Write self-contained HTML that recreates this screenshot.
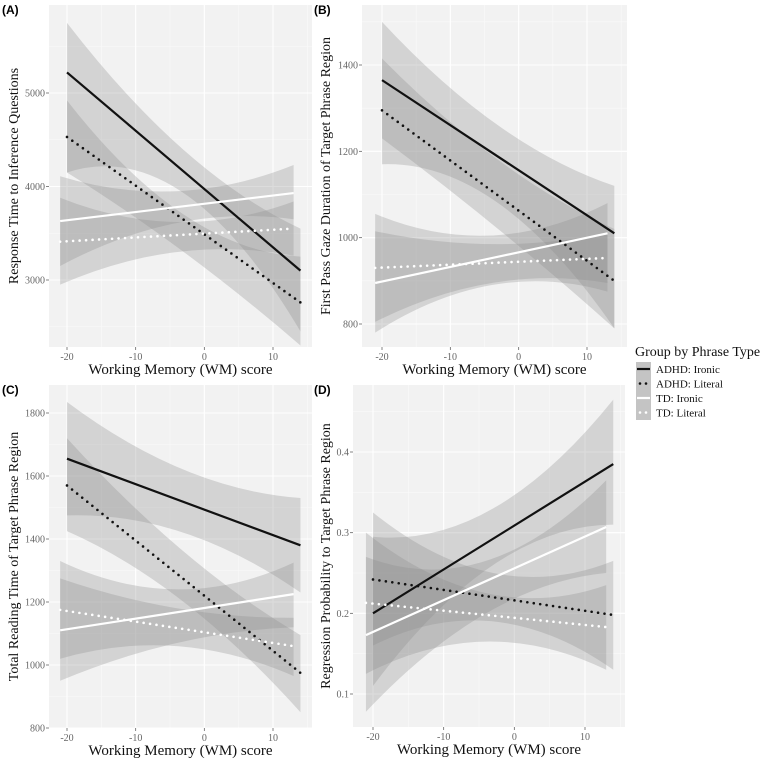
<!DOCTYPE html>
<html><head><meta charset="utf-8"><style>
body{margin:0;background:#fff;}
svg text{font-family:"Liberation Serif",serif;}
</style></head><body>
<svg id="chart" width="764" height="762" xmlns="http://www.w3.org/2000/svg"></svg>
<script>
// shared x extents: ADHD Ironic, ADHD Literal, TD Ironic, TD Literal
const seriesNames = ["ADHD: Ironic","ADHD: Literal","TD: Ironic","TD: Literal"];
const xStart = [-20,-20,-21,-21];
const xEnd = [14,14,13,13];
const xTicks = [-20,-10,0,10];

// Panel A
const aLineStart = [5220,4530,3630,3410];
const aLineEnd = [3100,2760,3930,3550];
const aBandUpper = [[5750,4390,3550],[4920,3700,3250],[4110,3950,4230],[3880,3620,3840]];
const aBandLower = [[4150,3930,2450],[4150,3300,2300],[3150,3610,3650],[2950,3300,3260]];
const aYTicks = [3000,4000,5000];
// Panel B
const bLineStart = [1365,1295,895,930];
const bLineEnd = [1010,900,1010,953];
const bBandUpper = [[1500,1260,1120],[1415,1180,1020],[1055,1005,1080],[1015,985,1010]];
const bBandLower = [[1170,1080,790],[1230,1020,790],[780,890,875],[805,895,895]];
const bYTicks = [800,1000,1200,1400];
// Panel C
const cLineStart = [1655,1570,1110,1175];
const cLineEnd = [1380,975,1225,1060];
const cBandUpper = [[1835,1620,1530],[1720,1360,1095],[1330,1240,1325],[1275,1180,1150]];
const cBandLower = [[1475,1420,1230],[1425,1200,850],[950,1070,1120],[1020,1060,965]];
const cYTicks = [800,1000,1200,1400,1600,1800];
// Panel D
const dLineStart = [0.20,0.242,0.173,0.213];
const dLineEnd = [0.385,0.198,0.307,0.183];
const dBandUpper = [[0.295,0.33,0.465],[0.325,0.25,0.265],[0.27,0.265,0.365],[0.30,0.225,0.235]];
const dBandLower = [[0.11,0.26,0.31],[0.16,0.19,0.13],[0.078,0.2,0.25],[0.125,0.165,0.13]];
const dYTicks = [0.1,0.2,0.3,0.4];

const NS="http://www.w3.org/2000/svg";
const svg=document.getElementById('chart');
function mk(tag,attrs,parent){const e=document.createElementNS(NS,tag);for(const k in attrs)e.setAttribute(k,attrs[k]);(parent||svg).appendChild(e);return e;}

const panels=[
 {id:'a',label:'(A)',title:'Response Time to Inference Questions',px0:49,px1:312,py0:5,py1:347,xa:[-20,67],xb:[10,273],ya:[5000,93],yb:[3000,280],ls:aLineStart,le:aLineEnd,bu:aBandUpper,bl:aBandLower,yt:aYTicks,fmt:v=>v,tx:13,lx:2,ly:14},
 {id:'b',label:'(B)',title:'First Pass Gaze Duration of Target Phrase Region',px0:362,px1:627,py0:5,py1:347,xa:[-20,382],xb:[10,587],ya:[1400,65],yb:[800,324],ls:bLineStart,le:bLineEnd,bu:bBandUpper,bl:bBandLower,yt:bYTicks,fmt:v=>v,tx:325,lx:314,ly:14},
 {id:'c',label:'(C)',title:'Total Reading Time of Target Phrase Region',px0:49,px1:312,py0:385,py1:728,xa:[-20,67],xb:[10,273],ya:[1800,413],yb:[800,728],ls:cLineStart,le:cLineEnd,bu:cBandUpper,bl:cBandLower,yt:cYTicks,fmt:v=>v,tx:13,lx:2,ly:394},
 {id:'d',label:'(D)',title:'Regression Probability to Target Phrase Region',px0:353,px1:625,py0:385,py1:727,xa:[-20,373],xb:[10,585],ya:[0.4,452],yb:[0.1,694],ls:dLineStart,le:dLineEnd,bu:dBandUpper,bl:dBandLower,yt:dYTicks,fmt:v=>v.toFixed(1),tx:325,lx:314,ly:394}
];

panels.forEach(p=>{
  const X=v=>p.xa[1]+(v-p.xa[0])*(p.xb[1]-p.xa[1])/(p.xb[0]-p.xa[0]);
  const Y=v=>p.ya[1]+(v-p.ya[0])*(p.yb[1]-p.ya[1])/(p.yb[0]-p.ya[0]);
  const g=mk('g',{});
  
  
  const bg=mk('rect',{x:p.px0,y:p.py0,width:p.px1-p.px0,height:p.py1-p.py0,fill:'#f2f2f2'},g);
  
  
  const ystep=p.yt[1]-p.yt[0];
  for(let i=-1;i<p.yt.length;i++){
    const mv=p.yt[0]+ystep*(i+0.5);const yy=Y(mv);
    if(yy>p.py0&&yy<p.py1)mk('line',{x1:p.px0,x2:p.px1,y1:yy,y2:yy,stroke:'#fafafa','stroke-width':0.6},g);
  }
  for(let i=-1;i<xTicks.length;i++){
    const xx=X(xTicks[0]+10*(i+0.5));
    if(xx>p.px0&&xx<p.px1)mk('line',{x1:xx,x2:xx,y1:p.py0,y2:p.py1,stroke:'#fafafa','stroke-width':0.6},g);
  }
  p.yt.forEach(v=>{const yy=Y(v);
    mk('line',{x1:p.px0,x2:p.px1,y1:yy,y2:yy,stroke:'#fff','stroke-width':1.1},g);
    mk('line',{x1:p.px0-3,x2:p.px0,y1:yy,y2:yy,stroke:'#666','stroke-width':0.8},g);
    const t=mk('text',{x:p.px0-4,y:yy+3.5,'text-anchor':'end','font-size':10,fill:'#666'},g);
    
    
    t.textContent=p.fmt(v);
  });
  xTicks.forEach(v=>{const xx=X(v);
    mk('line',{x1:xx,x2:xx,y1:p.py0,y2:p.py1,stroke:'#fff','stroke-width':1.1},g);
    mk('line',{x1:xx,x2:xx,y1:p.py1,y2:p.py1+3,stroke:'#666','stroke-width':0.8},g);
    const t=mk('text',{x:xx,y:p.py1+13,'text-anchor':'middle','font-size':10,fill:'#666'},g);
    
    
    t.textContent=v;
  });
  function curve(vals,i,rev){
    const xs=xStart[i],xe=xEnd[i],xm=(xs+xe)/2;
    const s=[X(xs),Y(vals[0])],m=[X(xm),Y(vals[1])],e=[X(xe),Y(vals[2])];
    const c=[2*m[0]-(s[0]+e[0])/2,2*m[1]-(s[1]+e[1])/2];
    return rev?{a:e,c:c,b:s}:{a:s,c:c,b:e};
  }
  for(let i=0;i<4;i++){
    const u=curve(p.bu[i],i,false),l=curve(p.bl[i],i,true);
    const d=`M${u.a}Q${u.c} ${u.b}L${l.a}Q${l.c} ${l.b}Z`;
    const band=mk('path',{d:d,fill:'#8c8c8c','fill-opacity':0.3},g);
    
    
  }
  for(let i=0;i<4;i++){
    const col=i<2?'#111':'#fff';
    const attrs={x1:X(xStart[i]),y1:Y(p.ls[i]),x2:X(xEnd[i]),y2:Y(p.le[i]),stroke:col,'stroke-width':i%2?2.6:2.2};
    if(i%2){attrs['stroke-dasharray']='0 6.5';attrs['stroke-linecap']='round';}
    const ln=mk('line',attrs,g);
    
    
  }
  const lab=mk('text',{x:p.lx,y:p.ly,'font-size':12,'font-weight':'bold',style:'font-family:"Liberation Sans",sans-serif'},g);
  
  
  lab.textContent=p.label;
  const xt=mk('text',{x:(p.px0+p.px1)/2,y:p.py1+27,'text-anchor':'middle','font-size':15,fill:'#111'},g);
  
  
  xt.textContent='Working Memory (WM) score';
  const cy=(p.py0+p.py1)/2;
  const yt=mk('text',{x:p.tx,y:cy,'text-anchor':'middle','font-size':14,fill:'#111',transform:`rotate(-90 ${p.tx} ${cy})`,dy:5},g);
  
  
  yt.textContent=p.title;
});

const lg=mk('g',{});


const lt=mk('text',{x:635,y:356,'font-size':14,fill:'#111'},lg);


lt.textContent='Group by Phrase Type';
seriesNames.forEach((n,i)=>{
  const y0=362+i*14.5;
  const e=mk('g',{},lg);
  
  
  mk('rect',{x:636,y:y0,width:15,height:14.5,fill:'#c4c4c4'},e);
  const a={x1:637,x2:650,y1:y0+7,y2:y0+7,stroke:i<2?'#111':'#fff','stroke-width':2.2};
  if(i%2){a['stroke-dasharray']='0 6';a['stroke-linecap']='round';a['stroke-width']=2.6;a.x1=640;}
  mk('line',a,e);
  const t=mk('text',{x:656,y:y0+11,'font-size':11,fill:'#111'},e);
  t.textContent=n;
});
</script>
</body></html>
